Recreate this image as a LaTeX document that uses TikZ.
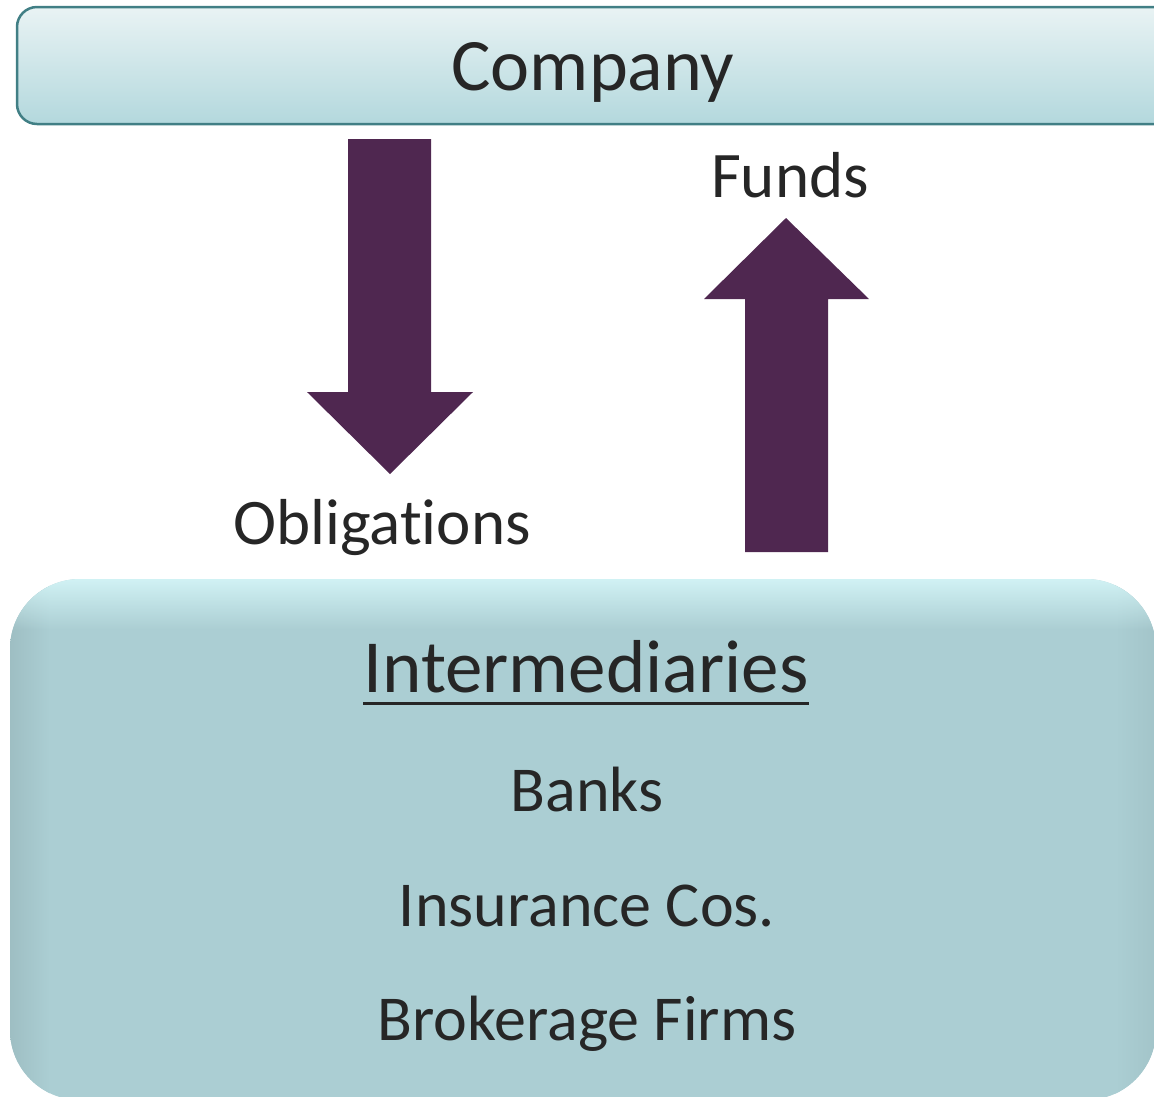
\documentclass[tikz,border=0pt]{standalone}
\usepackage{fontspec}
\usetikzlibrary{fadings}
\setmainfont{Carlito}[Ligatures=NoCommon]
\definecolor{txt}{HTML}{262626}
\definecolor{arrowc}{HTML}{4F2750}
\definecolor{cotop}{HTML}{E9F3F4}
\definecolor{cobot}{HTML}{B3D8DD}
\definecolor{coline}{HTML}{417F85}
\definecolor{interfill}{HTML}{ABCED3}
\definecolor{interhi}{HTML}{D4F5F7}
\begin{document}
\begin{tikzpicture}[x=1pt,y=-1pt,
  bigtxt/.style={text=txt,inner sep=0pt,anchor=base,font=\fontsize{74}{80}\selectfont},
  lbltxt/.style={text=txt,inner sep=0pt,anchor=base,font=\fontsize{64}{72}\selectfont},
  blockarrow/.style={fill=arrowc,draw=none}]
\useasboundingbox (0,0) rectangle (1154,1096);
\begin{scope}
\clip (0,0) rectangle (1154,1096);
% Company box
\shade[top color=cotop,bottom color=cobot,draw=coline,line width=2.5pt,rounded corners=20pt]
  (17,7) rectangle (1175,124);
% Intermediaries box
\path[fill=interfill,rounded corners=70pt] (10,579) rectangle (1156,1100);
\begin{scope}
\clip[rounded corners=70pt] (10,579) rectangle (1156,1100);
\shade[left color=interfill!92!black,right color=interfill] (8,575) rectangle (50,1100);
\shade[right color=interfill!95!black,left color=interfill] (1115,575) rectangle (1158,1100);
\fill[interhi,path fading=south] (0,575) rectangle (1160,630);
\end{scope}
\end{scope}
% Arrows
\path[blockarrow] (348,139) -- (431,139) -- (431,392) -- (473,392) -- (390,474)
  -- (307,392) -- (348,392) -- cycle;
\path[blockarrow] (745,552) -- (828,552) -- (828,299) -- (869,299) -- (786,218)
  -- (704,299) -- (745,299) -- cycle;
% Texts
\node[bigtxt] (company) at (593,90) {Company};
\node[lbltxt,font=\fontsize{65}{72}\selectfont] (funds) at (790,197) {Funds};
\node[lbltxt,font=\fontsize{65}{72}\selectfont] (oblig) at (382,544) {Obligations};
\node[bigtxt,font=\fontsize{75}{80}\selectfont] (inter) at (586,692) {Intermediaries};
\draw[txt,line width=3pt] ([yshift=-11pt]inter.base west) -- ([yshift=-11pt]inter.base east);
\node[lbltxt] (banks) at (587,811) {Banks};
\node[lbltxt] (insur) at (587,926) {Insurance Cos.};
\node[lbltxt] (broker) at (587,1040) {Brokerage Firms};
\end{tikzpicture}
\end{document}
